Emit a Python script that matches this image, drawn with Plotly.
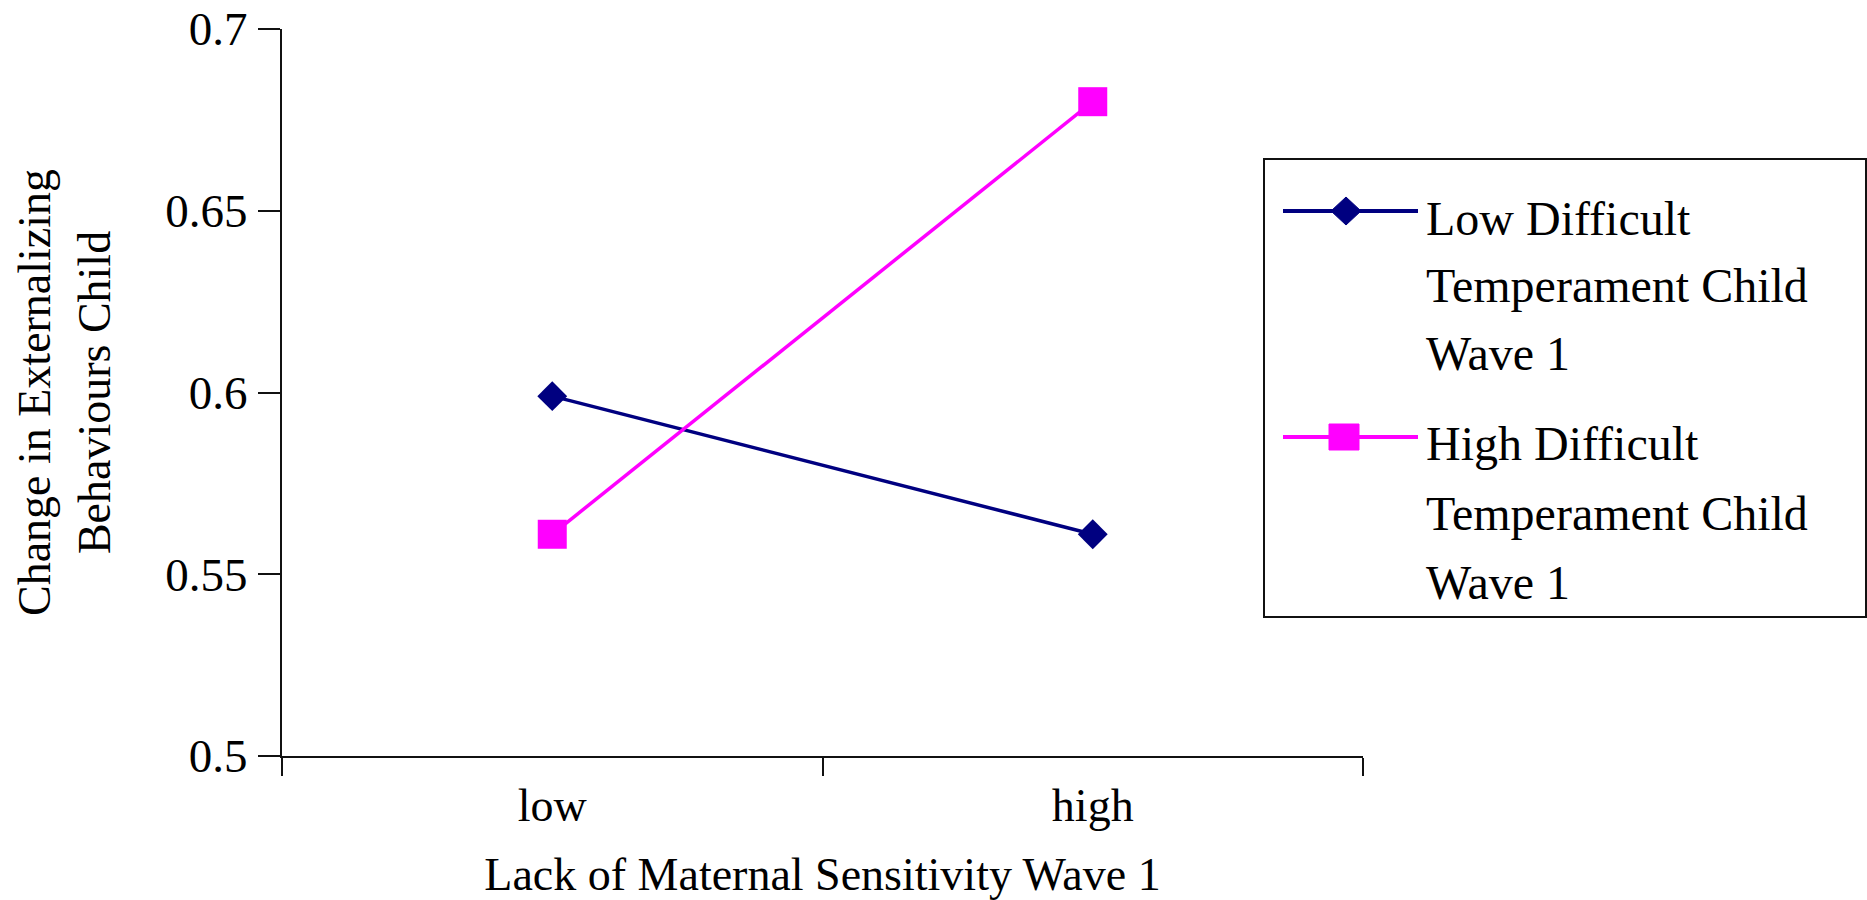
import plotly.graph_objects as go

# ---- data ----
categories = ["low", "high"]
low_difficult = [0.599, 0.561]
high_difficult = [0.561, 0.680]
series_names = ["Low Difficult Temperament Child Wave 1", "High Difficult Temperament Child Wave 1"]
legend_lines_low = ["Low Difficult", "Temperament Child", "Wave 1"]
legend_lines_high = ["High Difficult", "Temperament Child", "Wave 1"]
y_tickvals = [0.5, 0.55, 0.6, 0.65, 0.7]
y_ticktext = ["0.5", "0.55", "0.6", "0.65", "0.7"]
x_title = "Lack of Maternal Sensitivity Wave 1"
y_title = "Change in Externalizing<br>Behaviours Child"

# ---- layout helpers ----
W, H = 1867, 900
FONT = "Liberation Serif"
FS = 46
FS_TICK_Y = 47
FS_LEG = 48
NAVY = "#000080"
MAGENTA = "#FF00FF"
AXIS = "#111111"


def px(x):
    return x / W


def py(y):
    return 1 - y / H


fig = go.Figure()
fig.add_trace(go.Scatter(
    x=categories, y=low_difficult, mode="lines+markers", name=series_names[0],
    line=dict(color=NAVY, width=3.5),
    marker=dict(symbol="diamond", size=23, color=NAVY),
    showlegend=False,
))
fig.add_trace(go.Scatter(
    x=categories, y=high_difficult, mode="lines+markers", name=series_names[1],
    line=dict(color=MAGENTA, width=3.5),
    marker=dict(symbol="square", size=29, color=MAGENTA),
    showlegend=False,
))

# ---- manual legend (box, symbols, text) ----
box = dict(x0=1264, x1=1866, y0=159, y1=617)
shapes = [dict(type="rect", xref="paper", yref="paper",
               x0=px(box["x0"]), x1=px(box["x1"]), y0=py(box["y1"]), y1=py(box["y0"]),
               line=dict(color=AXIS, width=2), fillcolor="rgba(0,0,0,0)", layer="below")]
annotations = []
entries = [
    (legend_lines_low, NAVY, "diamond", 211, [218, 285, 353]),
    (legend_lines_high, MAGENTA, "square", 437, [443, 513, 582]),
]
for lines, color, sym, sym_y, text_ys in entries:
    shapes.append(dict(type="line", xref="paper", yref="paper",
                       x0=px(1283), x1=px(1418), y0=py(sym_y), y1=py(sym_y),
                       line=dict(color=color, width=4)))
    if sym == "diamond":
        shapes.append(dict(type="path", xref="paper", yref="paper",
                           xsizemode="pixel", ysizemode="pixel",
                           xanchor=px(1346), yanchor=py(sym_y),
                           path="M0,-14 L15,0 L0,14 L-15,0 Z",
                           fillcolor=color, line=dict(color=color, width=1)))
    else:
        shapes.append(dict(type="rect", xref="paper", yref="paper",
                           xsizemode="pixel", ysizemode="pixel",
                           xanchor=px(1344), yanchor=py(sym_y),
                           x0=-15, x1=15, y0=-13, y1=13,
                           fillcolor=color, line=dict(color=color, width=1)))
    for txt, ty in zip(lines, text_ys):
        annotations.append(dict(text=txt, xref="paper", yref="paper",
                                x=px(1424), y=py(ty), xanchor="left", yanchor="middle",
                                showarrow=False, font=dict(family=FONT, size=FS_LEG, color="black")))

fig.update_layout(
    width=W, height=H,
    margin=dict(l=0, r=0, t=0, b=0),
    paper_bgcolor="white", plot_bgcolor="white",
    font=dict(family=FONT, size=FS, color="black"),
    shapes=shapes,
    annotations=annotations,
    showlegend=False,
    xaxis=dict(
        type="category", categoryorder="array", categoryarray=categories,
        range=[-0.5, 1.5], domain=[px(282), px(1363)], automargin=False,
        tickson="boundaries", ticks="outside", ticklen=18, tickwidth=2, tickcolor=AXIS,
        showline=True, linewidth=2, linecolor=AXIS,
        showgrid=False, zeroline=False, ticklabelstandoff=8,
        tickfont=dict(family=FONT, size=FS, color="black"),
        title=dict(text=x_title, font=dict(family=FONT, size=FS, color="black"), standoff=30),
    ),
    yaxis=dict(
        range=[0.5, 0.7], domain=[py(756), py(29)], automargin=False,
        tickvals=y_tickvals, ticktext=y_ticktext,
        ticks="outside", ticklen=22, tickwidth=2, tickcolor=AXIS,
        showline=True, linewidth=2, linecolor=AXIS,
        showgrid=False, zeroline=False,
        ticklabeloverflow="allow", ticklabelstandoff=1,
        tickfont=dict(family=FONT, size=FS_TICK_Y, color="black"),
        title=dict(text=y_title, font=dict(family=FONT, size=FS, color="black"), standoff=40),
    ),
)

fig.write_html(
    "out.html",
    config={"displayModeBar": False},
    post_script="document.body.style.margin='0';document.body.style.overflow='hidden';",
)
